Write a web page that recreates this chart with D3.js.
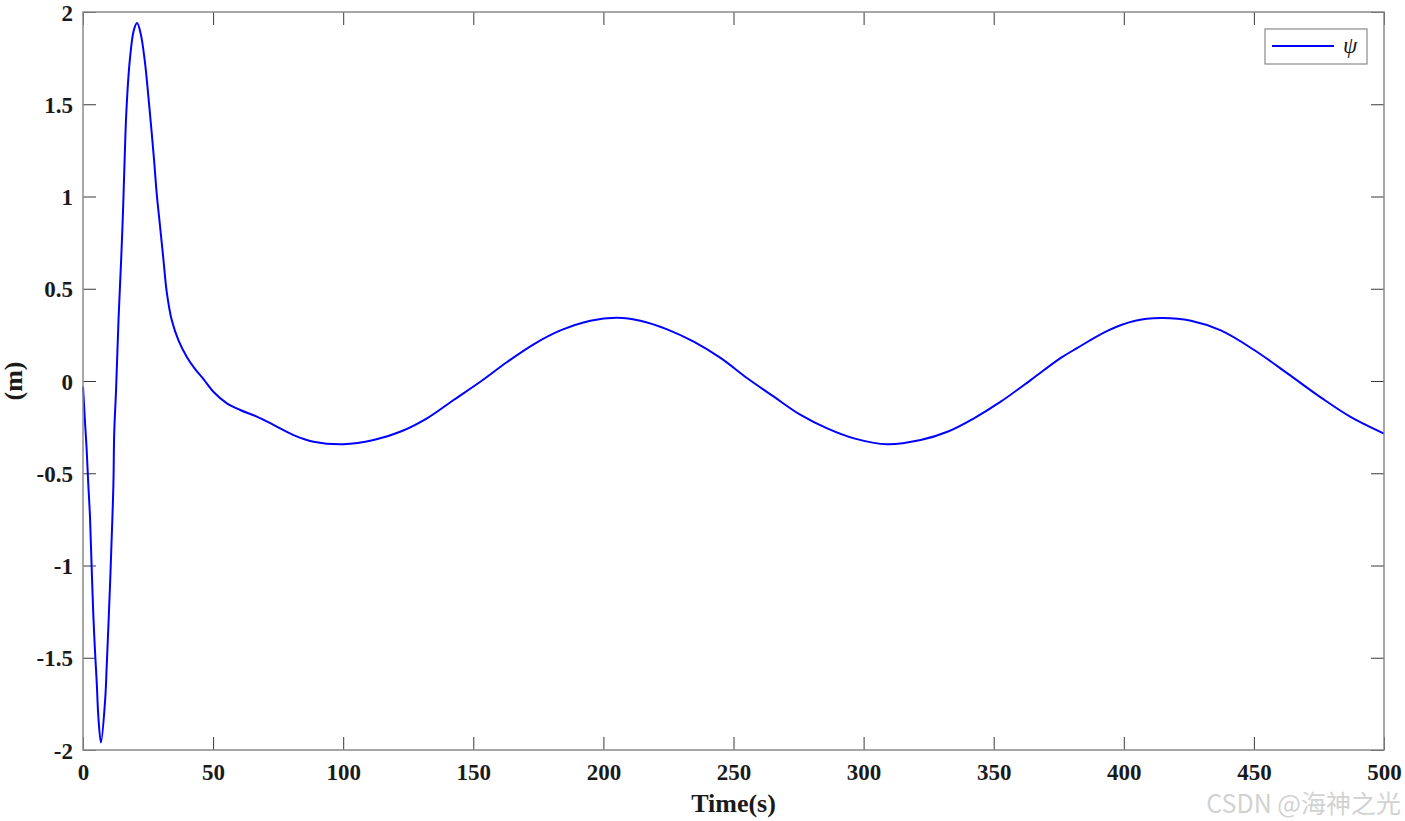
<!DOCTYPE html>
<html>
<head>
<meta charset="utf-8">
<script src="https://cdn.jsdelivr.net/npm/d3@7"></script>
<style>
  body { margin: 0; background: #fff; }
  svg { display: block; }
</style>
</head>
<body>
<div id="chart"></div>
<script>
// time samples (s) and psi values
var times = [0, 0.8, 1.4, 2.0, 2.7, 3.3, 4.0, 4.6, 5.3, 5.9, 6.9, 8.5, 9.1, 10.4, 11.3, 11.7, 12.0, 12.7, 13.7, 14.7, 15.4, 16.0, 16.7, 18.0, 19.5, 20.8,
    22.2, 23.7, 25.6, 27.3, 28.3, 29.6, 30.9, 32.2, 34.1, 36.7, 39.9, 42.8, 46.3, 50.1, 55.3, 60.4, 66.8, 73.2, 80.9, 88.6, 100.1,
    111.7, 121.9, 132.2, 142.4, 152.7, 163.0, 173.2, 183.5, 195.0, 205.3, 214.2, 224.5, 234.7, 245.0, 255.3, 265.5,
    275.8, 286.0, 296.3, 309.1, 321.9, 332.2, 342.4, 352.7, 364.2, 375.8, 382.0, 393.7, 404.0, 414.2, 425.8, 437.3,
    450.1, 463.0, 475.8, 487.3, 500];
var psi = [-0.03, -0.23, -0.37, -0.55, -0.74, -1.0, -1.28, -1.46, -1.64, -1.82, -1.96, -1.73, -1.55, -1.10, -0.74, -0.55, -0.28, -0.05, 0.35, 0.67, 0.93, 1.20, 1.47, 1.74, 1.90, 1.94,
    1.88, 1.74, 1.47, 1.20, 1.02, 0.84, 0.66, 0.48, 0.33, 0.22, 0.13, 0.07, 0.01, -0.058, -0.121, -0.157, -0.193, -0.238, -0.293, -0.329, -0.343,
    -0.320, -0.275, -0.202, -0.103, -0.004, 0.103, 0.199, 0.274, 0.327, 0.343, 0.327, 0.280, 0.213, 0.125, 0.015, -0.085,
    -0.184, -0.257, -0.311, -0.343, -0.320, -0.275, -0.202, -0.112, 0.005, 0.125, 0.178, 0.272, 0.325, 0.341, 0.327, 0.274,
    0.168, 0.040, -0.090, -0.196, -0.285];

var xTicks = [0, 50, 100, 150, 200, 250, 300, 350, 400, 450, 500];
var yTicks = [-2, -1.5, -1, -0.5, 0, 0.5, 1, 1.5, 2];

var W = 1405, H = 821;
var margin = { top: 12, right: 21, bottom: 71, left: 83 },
    w = W - margin.left - margin.right,
    h = H - margin.top - margin.bottom;

var svg = d3.select("#chart").append("svg")
    .attr("width", W)
    .attr("height", H);

var g = svg.append("g")
    .attr("transform", "translate(" + margin.left + "," + margin.top + ")");

var x = d3.scaleLinear().domain([0, 500]).range([0, w]);
var y = d3.scaleLinear().domain([-2, 2]).range([h, 0]);

var fmt = function (d) { return String(d); };
var tickLen = 13;
var serif = "'Liberation Serif', 'Times New Roman', serif";

// bottom axis with labels, ticks pointing in
var xAxis = g.append("g")
    .attr("transform", "translate(0," + h + ")")
    .call(d3.axisBottom(x).tickValues(xTicks).tickFormat(fmt).tickSizeInner(-tickLen).tickSizeOuter(0).tickPadding(17));
// left axis
var yAxis = g.append("g")
    .call(d3.axisLeft(y).tickValues(yTicks).tickFormat(fmt).tickSizeInner(-tickLen).tickSizeOuter(0).tickPadding(10));
// top and right ticks only
var xTop = g.append("g")
    .call(d3.axisTop(x).tickValues(xTicks).tickFormat("").tickSizeInner(-tickLen).tickSizeOuter(0));
var yRight = g.append("g")
    .attr("transform", "translate(" + w + ",0)")
    .call(d3.axisRight(y).tickValues(yTicks).tickFormat("").tickSizeInner(-tickLen).tickSizeOuter(0));

[xAxis, yAxis, xTop, yRight].forEach(function (a) {
    a.select(".domain").remove();
    a.selectAll(".tick line").attr("stroke", "#3a3a3a").attr("stroke-width", 1);
    a.selectAll(".tick text")
        .attr("fill", "#1a1a1a")
        .style("font-family", serif)
        .style("font-weight", "bold")
        .style("font-size", "23px");
});
yAxis.selectAll(".tick text").attr("dy", "0.35em");
xAxis.selectAll(".tick text").attr("dy", "0.55em");

// the data line
var line = d3.line()
    .x(function (d) { return x(d[0]); })
    .y(function (d) { return y(d[1]); })
    .curve(d3.curveCatmullRom.alpha(0.5));

g.append("path")
    .datum(d3.zip(times, psi))
    .attr("fill", "none")
    .attr("stroke", "#0000ff")
    .attr("stroke-width", 2)
    .attr("d", line);

// box around the plot
g.append("rect")
    .attr("x", 0).attr("y", 0)
    .attr("width", w).attr("height", h)
    .attr("fill", "none")
    .attr("stroke", "#8a8a8a")
    .attr("stroke-width", 1.5);

// axis labels
svg.append("text")
    .attr("x", margin.left + w / 2)
    .attr("y", 812)
    .attr("text-anchor", "middle")
    .attr("fill", "#1a1a1a")
    .style("font-family", serif)
    .style("font-weight", "bold")
    .style("font-size", "26px")
    .text("Time(s)");

svg.append("text")
    .attr("transform", "translate(22," + (margin.top + h / 2) + ") rotate(-90)")
    .attr("text-anchor", "middle")
    .attr("fill", "#1a1a1a")
    .style("font-family", serif)
    .style("font-weight", "bold")
    .style("font-size", "26px")
    .text("(m)");

// legend
var leg = svg.append("g").attr("transform", "translate(1265,29)");
leg.append("rect")
    .attr("width", 102).attr("height", 35)
    .attr("fill", "#fff")
    .attr("stroke", "#8a8a8a")
    .attr("stroke-width", 1.2);
leg.append("line")
    .attr("x1", 7).attr("x2", 69)
    .attr("y1", 17).attr("y2", 17)
    .attr("stroke", "#0000ff")
    .attr("stroke-width", 2);
leg.append("text")
    .attr("x", 78).attr("y", 24)
    .attr("fill", "#1a1a1a")
    .style("font-family", serif)
    .style("font-style", "italic")
    .style("font-size", "23px")
    .text("ψ");

// watermark
svg.append("text")
    .attr("x", 1401).attr("y", 813)
    .attr("text-anchor", "end")
    .attr("fill", "#d2d2d2")
    .style("font-family", "'Noto Sans CJK SC', 'Noto Sans', sans-serif")
    .style("font-size", "25px")
    .text("CSDN @海神之光");
</script>
</body>
</html>
